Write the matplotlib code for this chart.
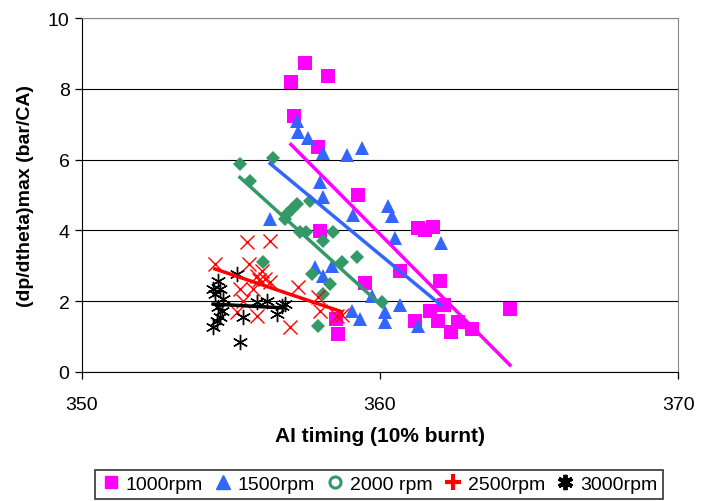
import numpy as np
import matplotlib
matplotlib.use("Agg")
import matplotlib.pyplot as plt
from matplotlib.lines import Line2D

plt.rcParams['font.family'] = ['Liberation Sans', 'DejaVu Sans']

# 1000 rpm
x1000 = [357.01, 357.48, 358.26, 357.11, 357.92, 359.26, 357.99, 359.5, 360.67,
         361.28, 361.5, 361.78, 362.0, 361.17, 361.68, 361.95, 362.15, 362.38,
         362.6, 363.09, 364.36, 358.6, 358.52]
y1000 = [8.19, 8.73, 8.36, 7.23, 6.36, 5.0, 3.98, 2.51, 2.85,
         4.07, 4.01, 4.1, 2.57, 1.44, 1.72, 1.44, 1.89, 1.13,
         1.41, 1.21, 1.78, 1.07, 1.5]

# 1500 rpm
x1500 = [357.21, 357.25, 357.58, 358.09, 358.89, 359.4, 357.99, 358.09, 359.09,
         360.27, 360.4, 360.5, 356.31, 357.82, 358.09, 358.38, 359.72, 359.05,
         359.33, 360.67, 360.17, 360.17, 361.28, 362.05]
y1500 = [7.09, 6.78, 6.61, 6.19, 6.13, 6.33, 5.37, 4.94, 4.44,
         4.69, 4.41, 3.79, 4.32, 2.96, 2.72, 3.0, 2.15, 1.73,
         1.5, 1.89, 1.69, 1.41, 1.3, 3.64]

# 2000 rpm
x2000 = [355.3, 356.42, 355.64, 357.2, 357.04, 356.87, 356.81, 357.65, 357.32,
         357.52, 358.1, 358.43, 356.08, 358.71, 359.22, 357.71, 358.32, 358.1,
         360.08, 357.93]
y2000 = [5.88, 6.06, 5.4, 4.75, 4.6, 4.46, 4.32, 4.84, 3.95,
         3.95, 3.71, 3.95, 3.12, 3.12, 3.24, 2.77, 2.49, 2.2,
         1.99, 1.31]

# 2500 rpm
x2500 = [355.53, 356.31, 354.46, 355.61, 355.86, 356.14, 355.3, 355.75, 356.31,
         357.26, 355.19, 355.86, 355.41, 356.98, 357.93, 357.99, 358.55, 358.71,
         355.95, 356.05]
y2500 = [3.66, 3.71, 3.05, 3.05, 2.72, 2.63, 2.34, 2.34, 2.53,
         2.39, 1.69, 1.57, 2.01, 1.26, 2.11, 1.73, 1.59, 1.62,
         2.6, 2.85]

# 3000 rpm
x3000 = [354.57, 354.4, 354.63, 355.19, 354.74, 354.57, 354.69, 354.63, 354.52,
         354.4, 355.41, 355.3, 355.86, 356.2, 356.53, 356.7, 356.81, 354.46]
y3000 = [2.58, 2.34, 2.34, 2.77, 2.06, 1.83, 1.73, 1.54, 1.45,
         1.26, 1.54, 0.84, 1.97, 2.01, 1.64, 1.87, 1.92, 2.2]

labels = ['1000rpm', '1500rpm', '2000 rpm', '2500rpm', '3000rpm']

fig = plt.figure(figsize=(7.1, 5.02), dpi=100)
ax = fig.add_axes([0.1155, 0.257, 0.8395, 0.705])

series = [
    (x1000, y1000, '#FF00FF', 's', 10),
    (x1500, y1500, '#3366FF', '^', 10),
    (x2000, y2000, '#339966', 'D', 7.5),
    (x2500, y2500, '#FF0000', 'x', 10),
    (x3000, y3000, '#000000', (6, 2, 0), 11),
]

for xs, ys, c, m, ms in series:
    if m == 'x' or isinstance(m, tuple):
        ax.plot(xs, ys, linestyle='none', marker=m, color=c, markersize=ms,
                markeredgewidth=1.0, zorder=3)
    else:
        ax.plot(xs, ys, linestyle='none', marker=m, color=c, markersize=ms,
                markeredgewidth=0, zorder=3)

# linear trendlines over each series' x range
for xs, ys, c, m, ms in series:
    p = np.polyfit(xs, ys, 1)
    xx = np.array([min(xs), max(xs)])
    ax.plot(xx, np.polyval(p, xx), color=c, linewidth=2.5, zorder=4)

ax.set_xlim(350, 370)
ax.set_ylim(0, 10)
ax.set_xticks([350, 360, 370])
ax.set_yticks([0, 2, 4, 6, 8, 10])
ax.yaxis.grid(True, color='black', linewidth=0.8)
ax.set_axisbelow(True)
ax.spines['top'].set_color('#888888')
ax.spines['right'].set_color('#888888')
ax.spines['left'].set_color('black')
ax.spines['bottom'].set_color('black')
ax.tick_params(labelsize=14, direction='out', length=5, width=0.9)
ax.tick_params(axis='x', pad=12)
ax.tick_params(axis='y', pad=4)

ax.set_xlabel('AI timing (10% burnt)', fontsize=15, fontweight='bold', labelpad=10)
ax.set_ylabel('(dp/dtheta)max (bar/CA)', fontsize=14, fontweight='bold', labelpad=10)

handles = [
    Line2D([], [], linestyle='none', marker='s', color='#FF00FF', markersize=9),
    Line2D([], [], linestyle='none', marker='^', color='#3366FF', markersize=10),
    Line2D([], [], linestyle='none', marker='o', markerfacecolor='none',
           markeredgecolor='#339966', markeredgewidth=2.2, markersize=8),
    Line2D([], [], linestyle='none', marker='+', color='#FF0000', markersize=12,
           markeredgewidth=3),
    Line2D([], [], linestyle='none', marker=(6, 2, 0), color='black', markersize=11,
           markeredgewidth=2.8),
]
leg = fig.legend(handles, labels, loc='lower center', bbox_to_anchor=(0.534, 0.0),
                 ncol=5, fontsize=14, frameon=True, fancybox=False,
                 handlelength=1.0, handletextpad=0.25, columnspacing=0.55,
                 borderpad=0.3, borderaxespad=0.1)
leg.get_frame().set_edgecolor('black')
leg.get_frame().set_linewidth(1.2)

fig.savefig('out.png', dpi=100)
